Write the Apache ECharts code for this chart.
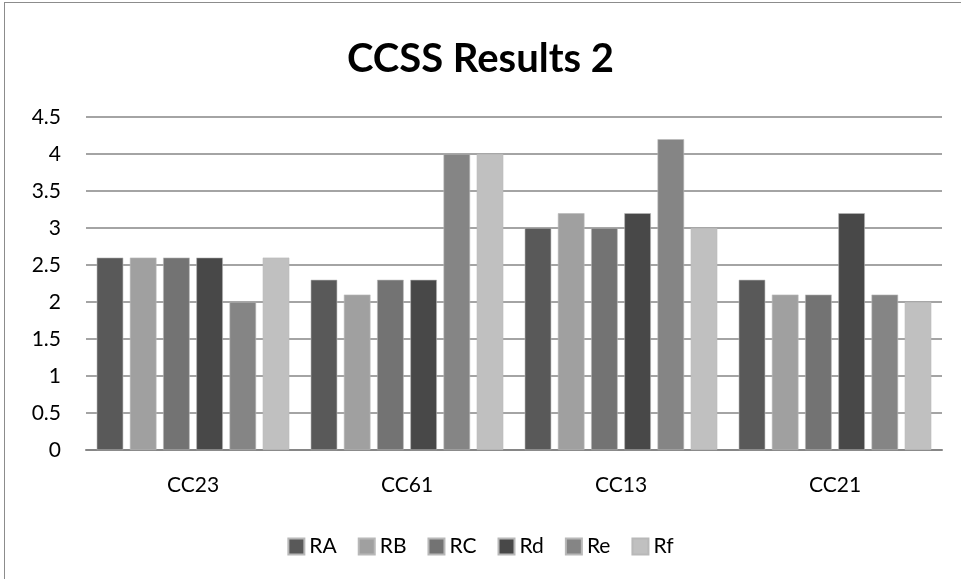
<!DOCTYPE html>
<html>
<head>
<meta charset="utf-8">
<title>CCSS Results 2</title>
<script src="https://cdn.jsdelivr.net/npm/echarts@6/dist/echarts.min.js"></script>
<style>
  html, body { margin: 0; padding: 0; background: #fff; }
  #frame { position: absolute; left: 4px; top: 2px; width: 990px; height: 600px; border: 1.5px solid #8c8c8c; box-sizing: border-box; }
  #chart { position: absolute; left: 0; top: 0; width: 961px; height: 579px; }
</style>
</head>
<body>
<div id="frame"></div>
<div id="chart"></div>
<script>
var categories = ['CC23', 'CC61', 'CC13', 'CC21'];
var seriesNames = ['RA', 'RB', 'RC', 'Rd', 'Re', 'Rf'];
var seriesColors = ['#595959', '#a0a0a0', '#737373', '#484848', '#858585', '#c0c0c0'];
var RA = [2.6, 2.3, 3.0, 2.3];
var RB = [2.6, 2.1, 3.2, 2.1];
var RC = [2.6, 2.3, 3.0, 2.1];
var Rd = [2.6, 2.3, 3.2, 3.2];
var Re = [2.0, 4.0, 4.2, 2.1];
var Rf = [2.6, 4.0, 3.0, 2.0];
var seriesData = [RA, RB, RC, Rd, Re, Rf];

var font = 'Lato, "Open Sans", sans-serif';

var series = [];
for (var i = 0; i < seriesNames.length; i++) {
  series.push({
    name: seriesNames[i],
    type: 'bar',
    barGap: '25%',
    barCategoryGap: '10%',
    itemStyle: { color: seriesColors[i], borderColor: '#b8b8b8', borderWidth: 0.6 },
    data: seriesData[i]
  });
}

var myChart = echarts.init(document.getElementById('chart'));
myChart.setOption({
  animation: false,
  textStyle: { fontFamily: font },
  title: {
    text: 'CCSS Results 2',
    left: 'center',
    top: 34,
    textStyle: { fontSize: 40, fontWeight: 'bold', color: '#000', fontFamily: font }
  },
  legend: {
    top: 531,
    left: 'center',
    itemWidth: 16,
    itemHeight: 16,
    itemGap: 21,
    icon: 'rect',
    textStyle: { fontSize: 21, color: '#000', fontFamily: font },
    data: seriesNames
  },
  grid: { left: 86, right: 19, top: 117, bottom: 129 },
  xAxis: {
    type: 'category',
    data: categories,
    axisLine: { lineStyle: { color: '#868686', width: 2 } },
    axisTick: { show: false },
    axisLabel: { fontSize: 21, color: '#000', margin: 25, fontFamily: font }
  },
  yAxis: {
    type: 'value',
    min: 0,
    max: 4.5,
    interval: 0.5,
    axisLine: { show: false },
    axisTick: { show: false },
    axisLabel: { fontSize: 21, color: '#000', margin: 25, fontFamily: font },
    splitLine: { lineStyle: { color: '#868686', width: 1.5 } }
  },
  series: series
});
</script>
</body>
</html>
